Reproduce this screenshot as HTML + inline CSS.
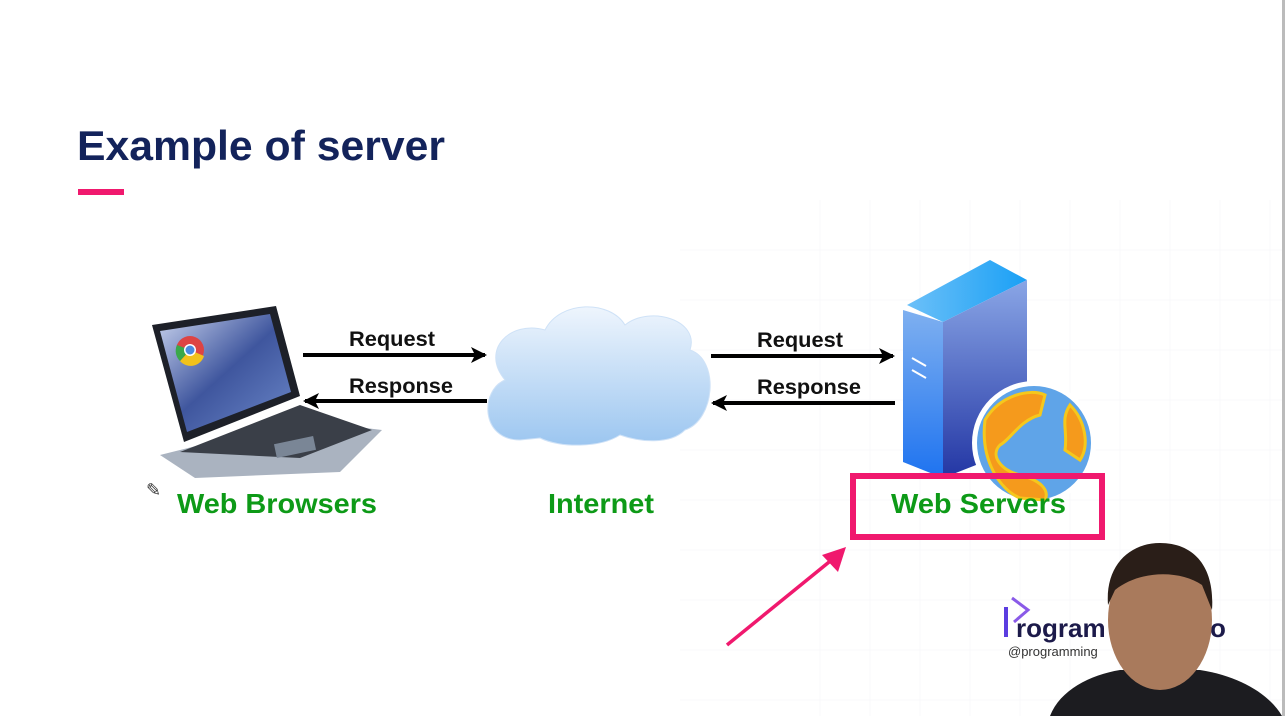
<!DOCTYPE html>
<html><head><style>
html,body{margin:0;padding:0;background:#fff;}
body{width:1285px;height:716px;overflow:hidden;position:relative;font-family:"Liberation Sans",Arial,sans-serif;}
</style></head><body>
<svg width="1285" height="716" viewBox="0 0 1285 716" xmlns="http://www.w3.org/2000/svg" style="position:absolute;left:0;top:0">
<defs>
<linearGradient id="scr" x1="0" y1="0" x2="1" y2="1"><stop offset="0" stop-color="#c9d3ee"/><stop offset="0.5" stop-color="#3f569e"/><stop offset="1" stop-color="#6b87c8"/></linearGradient>
<linearGradient id="cl" x1="0" y1="0" x2="0" y2="1"><stop offset="0" stop-color="#eef5fd"/><stop offset="1" stop-color="#9cc6f0"/></linearGradient>
<linearGradient id="sf" x1="0" y1="0" x2="0" y2="1"><stop offset="0" stop-color="#7fb0f0"/><stop offset="1" stop-color="#1e73f0"/></linearGradient>
<linearGradient id="sr" x1="0" y1="0" x2="0" y2="1"><stop offset="0" stop-color="#8aa6e6"/><stop offset="1" stop-color="#2336a4"/></linearGradient>
<linearGradient id="st" x1="0" y1="0" x2="1" y2="0"><stop offset="0" stop-color="#6cc0f8"/><stop offset="1" stop-color="#1aa0f5"/></linearGradient>
<marker id="ah" markerWidth="16" markerHeight="16" refX="14" refY="8" orient="auto" markerUnits="userSpaceOnUse"><path d="M0,0 L16,8 L0,16 L4,8 z" fill="#000"/></marker>
</defs>
<text x="77" y="160" font-family="Liberation Sans" font-weight="bold" font-size="42" fill="#13235b" textLength="368" lengthAdjust="spacingAndGlyphs">Example of server</text>
<rect x="78" y="189" width="46" height="6" fill="#f0196e"/>
<g stroke="#f9f9fb" stroke-width="1">
<path d="M820 200V716M870 200V716M920 200V716M970 200V716M1020 200V716M1070 200V716M1120 200V716M1170 200V716M1220 200V716M1270 200V716"/>
<path d="M680 250H1285M680 300H1285M680 350H1285M680 400H1285M680 450H1285M680 500H1285M680 550H1285M680 600H1285M680 650H1285M680 700H1285"/>
</g>
<polygon points="160,455 300,420 382,430 340,472 195,478" fill="#aab3c0"/>
<polygon points="180,452 300,405 372,430 300,458" fill="#3a3f48"/>
<rect x="275" y="440" width="40" height="14" fill="#7a8696" transform="rotate(-12 295 447)"/>
<polygon points="152,325 276,306 300,396 184,442" fill="#1d2028"/>
<polygon points="160,331 270,314 291,392 187,432" fill="url(#scr)"/>
<circle cx="190" cy="350" r="14" fill="#d44"/>
<path d="M190 350 L204 356 A14 14 0 0 1 180 361 z" fill="#f2c21c"/>
<path d="M190 350 L180 361 A14 14 0 0 1 177 345 z" fill="#3aa84a"/>
<circle cx="190" cy="350" r="6" fill="#fff"/><circle cx="190" cy="350" r="4.5" fill="#4a8ae0"/>
<line x1="303" y1="355" x2="485" y2="355" stroke="#000" stroke-width="4" marker-end="url(#ah)"/>
<line x1="487" y1="401" x2="305" y2="401" stroke="#000" stroke-width="4" marker-end="url(#ah)"/>
<line x1="711" y1="356" x2="893" y2="356" stroke="#000" stroke-width="4" marker-end="url(#ah)"/>
<line x1="895" y1="403" x2="713" y2="403" stroke="#000" stroke-width="4" marker-end="url(#ah)"/>
<g font-family="Liberation Sans" font-weight="bold" font-size="21" fill="#111">
<text x="349" y="346" textLength="86" lengthAdjust="spacingAndGlyphs">Request</text><text x="349" y="393" textLength="104" lengthAdjust="spacingAndGlyphs">Response</text>
<text x="757" y="347" textLength="86" lengthAdjust="spacingAndGlyphs">Request</text><text x="757" y="394" textLength="104" lengthAdjust="spacingAndGlyphs">Response</text>
</g>
<g fill="url(#cl)" stroke="#cfe2f7" stroke-width="1">
<path d="M520 440 C480 440 480 390 505 380 C480 350 510 320 545 330 C560 300 610 300 625 325 C650 305 700 320 690 350 C720 360 715 420 685 430 C670 445 640 442 620 435 C600 448 560 448 540 438 z"/>
</g>
<polygon points="907,305 990,260 1027,280 943,322" fill="url(#st)"/>
<polygon points="903,310 943,322 943,478 903,462" fill="url(#sf)"/>
<polygon points="943,322 1027,280 1027,445 943,478" fill="url(#sr)"/>
<line x1="912" y1="358" x2="926" y2="366" stroke="#fff" stroke-width="2"/>
<line x1="912" y1="370" x2="926" y2="378" stroke="#fff" stroke-width="2"/>
<circle cx="1034" cy="443" r="62" fill="#fff"/>
<circle cx="1034" cy="443" r="57" fill="#5fa4e8"/>
<path d="M985 420 C1000 395 1030 388 1045 395 L1040 415 C1020 420 1010 440 1000 445 C990 455 1000 470 1020 475 C1040 480 1050 490 1045 500 L1020 498 C1000 490 980 460 985 420z" fill="#f59a1c" stroke="#f5c81c" stroke-width="3"/>
<path d="M1070 405 C1085 420 1090 445 1080 460 L1065 450 C1068 430 1060 420 1070 405z" fill="#f59a1c" stroke="#f5c81c" stroke-width="3"/>
<g font-family="Liberation Sans" font-weight="bold" font-size="28" fill="#0d9a17">
<text x="177" y="513" textLength="200" lengthAdjust="spacingAndGlyphs">Web Browsers</text>
<text x="548" y="513" textLength="106" lengthAdjust="spacingAndGlyphs">Internet</text>
<text x="891" y="513" textLength="175" lengthAdjust="spacingAndGlyphs">Web Servers</text>
</g>
<rect x="853" y="476" width="249" height="61" fill="none" stroke="#f0196e" stroke-width="6"/>
<line x1="727" y1="645" x2="834" y2="558" stroke="#f0196e" stroke-width="3.5"/>
<path d="M846 547 L822 555 L838 572 z" fill="#f0196e"/>
<text x="146" y="496" font-size="18" fill="#333">✎</text>
<path d="M1006 607 L1006 637" stroke="#5b3de0" stroke-width="4"/>
<path d="M1012 598 L1028 610 L1014 622" stroke="#8a5ae8" stroke-width="3" fill="none"/>
<text x="1016" y="637" font-family="Liberation Sans" font-weight="bold" font-size="26" fill="#1c1a4a">rogram</text>
<text x="1008" y="656" font-family="Liberation Sans" font-size="13" fill="#333">@programming</text>
<text x="1210" y="637" font-family="Liberation Sans" font-weight="bold" font-size="26" fill="#1c1a4a">o</text>
<path d="M1050 716 C1060 690 1090 675 1120 670 L1200 670 C1240 676 1270 695 1282 716z" fill="#1c1c20"/>
<ellipse cx="1160" cy="620" rx="52" ry="70" fill="#a97a5c"/>
<path d="M1108 605 C1105 565 1130 543 1160 543 C1195 543 1215 568 1212 610 L1202 585 C1180 570 1140 570 1115 590z" fill="#2a1e18"/>
<rect x="1282" y="0" width="3" height="716" fill="#bbb"/>
</svg>
</body></html>
